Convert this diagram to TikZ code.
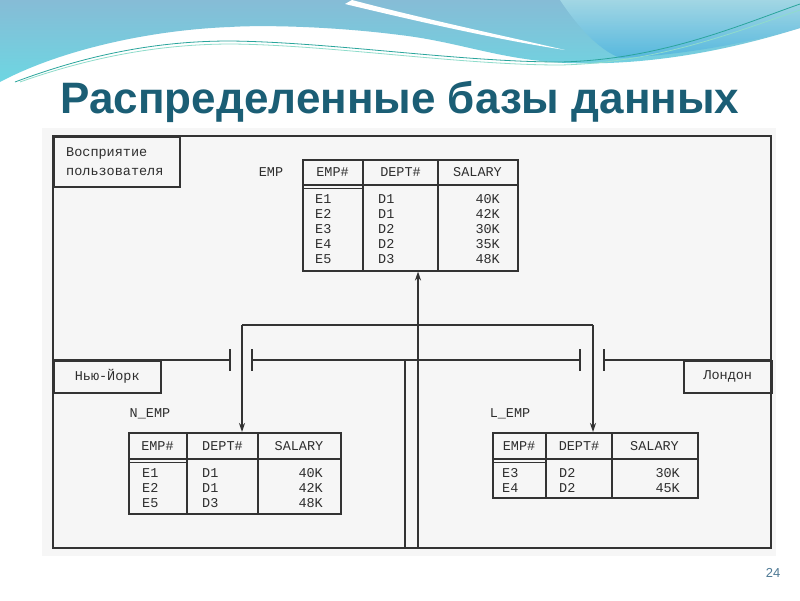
\documentclass[tikz,border=0pt]{standalone}
\usepackage{fontspec}
\setmainfont{Liberation Sans}
\newfontfamily\mono{Liberation Mono}
\usetikzlibrary{arrows.meta}
\definecolor{titlec}{HTML}{1B5E75}
\definecolor{linec}{HTML}{333333}
\definecolor{txtc}{HTML}{2E2E2E}
\definecolor{numc}{HTML}{4F7A95}
\definecolor{waveA}{HTML}{86BCD6}
\definecolor{waveB}{HTML}{6DD6E2}
\definecolor{waveC}{HTML}{A9DDE8}
\definecolor{waveD}{HTML}{4FB3DE}
\definecolor{tealA}{HTML}{2AA59C}
\definecolor{tealB}{HTML}{8FDCCB}
\begin{document}
\begin{tikzpicture}[x=1pt,y=-1pt,
  ln/.style={draw=linec,line width=1.5pt},
  arr/.style={-{Stealth[length=9pt,width=6pt]}},
  tbl/.style={draw=linec,line width=1.5pt,inner sep=0pt,minimum width=#1},
  tt/.style={font=\mono\fontsize{13.5}{15}\selectfont,text=txtc,inner sep=0pt},
  lbox/.style={draw=linec,line width=1.5pt,inner sep=0pt,anchor=north west}]
\useasboundingbox (0,0) rectangle (800,600);
\fill[white] (0,0) rectangle (800,600);
% decorative wave
\shade[top color=waveA,bottom color=waveB] (0,0) -- (800,0) -- (800,28)
  .. controls (730,50) and (650,66) .. (567,63)
  .. controls (500,60) and (460,42) .. (400,35)
  .. controls (330,26) and (260,25) .. (230,27)
  .. controls (150,30) and (60,50) .. (0,82) -- cycle;
\shade[top color=waveC,bottom color=waveD,opacity=0.8] (560,0) -- (800,0) -- (800,28)
  .. controls (740,45) and (680,55) .. (620,58) .. controls (600,50) and (580,30) .. (560,0) -- cycle;
\fill[white] (352,0) .. controls (420,18) and (500,35) .. (565,50)
  .. controls (500,40) and (420,22) .. (345,4) -- cycle;
\draw[tealA,line width=0.8pt] (15,82) .. controls (100,50) and (170,41) .. (230,41)
  .. controls (330,42) and (460,62) .. (560,62) .. controls (660,60) and (740,25) .. (800,4);
\draw[tealB,line width=0.8pt] (20,82) .. controls (105,52) and (175,44) .. (232,44)
  .. controls (330,45) and (460,65) .. (560,65) .. controls (660,63) and (740,30) .. (800,10);
% title
\node[font=\fontsize{44}{50}\selectfont\bfseries,text=titlec,anchor=base,inner sep=0pt] (title) at (400,113) {Распределенные базы данных};
% scan background
\fill[gray!7] (42,128) rectangle (776,556);
% outer frame
\draw[ln] (53,136) rectangle (771,548);
\node[lbox,minimum width=126pt,minimum height=50pt] (persp) at (53,136) {};
\node[tt,anchor=base west] (persp1) at (66,156.5) {Восприятие};
\node[tt,anchor=base west] (persp2) at (66,175.5) {пользователя};
% EMP table
\node[tt] (emplbl) at (271,172) {EMP};
\node[tbl=215pt,minimum height=111pt,anchor=north west] (emp) at (302,159) {};
\draw[ln] (363,159) -- (363,270) (438,159) -- (438,270) (302,185) -- (517,185) (302,188.5) -- (363,188.5);
\node[tt,anchor=base] (empH1) at (332.5,176.5) {EMP\#};
\node[tt,anchor=base] (empH2) at (400.5,176.5) {DEPT\#};
\node[tt,anchor=base] (empH3) at (477.5,176.5) {SALARY};
\foreach \e/\d/\s [count=\i] in {E1/D1/40K,E2/D1/42K,E3/D2/30K,E4/D2/35K,E5/D3/48K}{
  \node[tt,anchor=base west] (empE\i) at (315,{188.5+15*\i}) {\e};
  \node[tt,anchor=base west] (empD\i) at (378,{188.5+15*\i}) {\d};
  \node[tt,anchor=base east] (empS\i) at (500,{188.5+15*\i}) {\s};
}
% network line
\draw[ln] (53,360) -- (230,360) (230,349) -- (230,371) (252,349) -- (252,371)
  (252,360) -- (580,360) (580,349) -- (580,371) (604,349) -- (604,371) (604,360) -- (771,360);
\node[lbox,minimum width=107pt,minimum height=32pt] (nybox) at (53,360) {};
\node[tt] (ny) at (nybox.center) {Нью-Йорк};
\node[lbox,minimum width=88pt,minimum height=32pt] (ldbox) at (683,360) {};
\node[tt] (ld) at (ldbox.center) {Лондон};
\draw[ln] (405,360) -- (405,548) (418,325) -- (418,548);
% N_EMP table
\node[tt] (nemplbl) at (150,414) {N\_EMP};
\node[tbl=212pt,minimum height=81pt,anchor=north west] (nemp) at (128,432) {};
\draw[ln] (187,432) -- (187,513) (258,432) -- (258,513) (128,459) -- (340,459) (128,462.5) -- (187,462.5);
\node[tt,anchor=base] (nempH1) at (157.5,450.5) {EMP\#};
\node[tt,anchor=base] (nempH2) at (222.5,450.5) {DEPT\#};
\node[tt,anchor=base] (nempH3) at (299,450.5) {SALARY};
\foreach \e/\d/\s [count=\i] in {E1/D1/40K,E2/D1/42K,E5/D3/48K}{
  \node[tt,anchor=base west] (nempE\i) at (142,{462.5+15*\i}) {\e};
  \node[tt,anchor=base west] (nempD\i) at (202,{462.5+15*\i}) {\d};
  \node[tt,anchor=base east] (nempS\i) at (323,{462.5+15*\i}) {\s};
}
% L_EMP table
\node[tt] (lemplbl) at (510,414) {L\_EMP};
\node[tbl=205pt,minimum height=65pt,anchor=north west] (lemp) at (492,432) {};
\draw[ln] (546,432) -- (546,497) (612,432) -- (612,497) (492,459) -- (697,459) (492,462.5) -- (546,462.5);
\node[tt,anchor=base] (lempH1) at (519,450.5) {EMP\#};
\node[tt,anchor=base] (lempH2) at (579,450.5) {DEPT\#};
\node[tt,anchor=base] (lempH3) at (654.5,450.5) {SALARY};
\foreach \e/\d/\s [count=\i] in {E3/D2/30K,E4/D2/45K}{
  \node[tt,anchor=base west] (lempE\i) at (502,{462.5+15*\i}) {\e};
  \node[tt,anchor=base west] (lempD\i) at (559,{462.5+15*\i}) {\d};
  \node[tt,anchor=base east] (lempS\i) at (680,{462.5+15*\i}) {\s};
}
% connectors
\coordinate (jl) at (242,325);
\coordinate (jm) at (418,325);
\coordinate (jr) at (593,325);
\draw[ln] (jl) -- (jr);
\draw[ln,arr] (jm) -- (jm |- emp.south);
\draw[ln,arr] (jl) -- (jl |- nemp.north);
\draw[ln,arr] (jr) -- (jr |- lemp.north);
% slide number
\node[font=\fontsize{13}{14}\selectfont,text=numc,anchor=base,inner sep=0pt] (num) at (773,577) {24};
\end{tikzpicture}
\end{document}
